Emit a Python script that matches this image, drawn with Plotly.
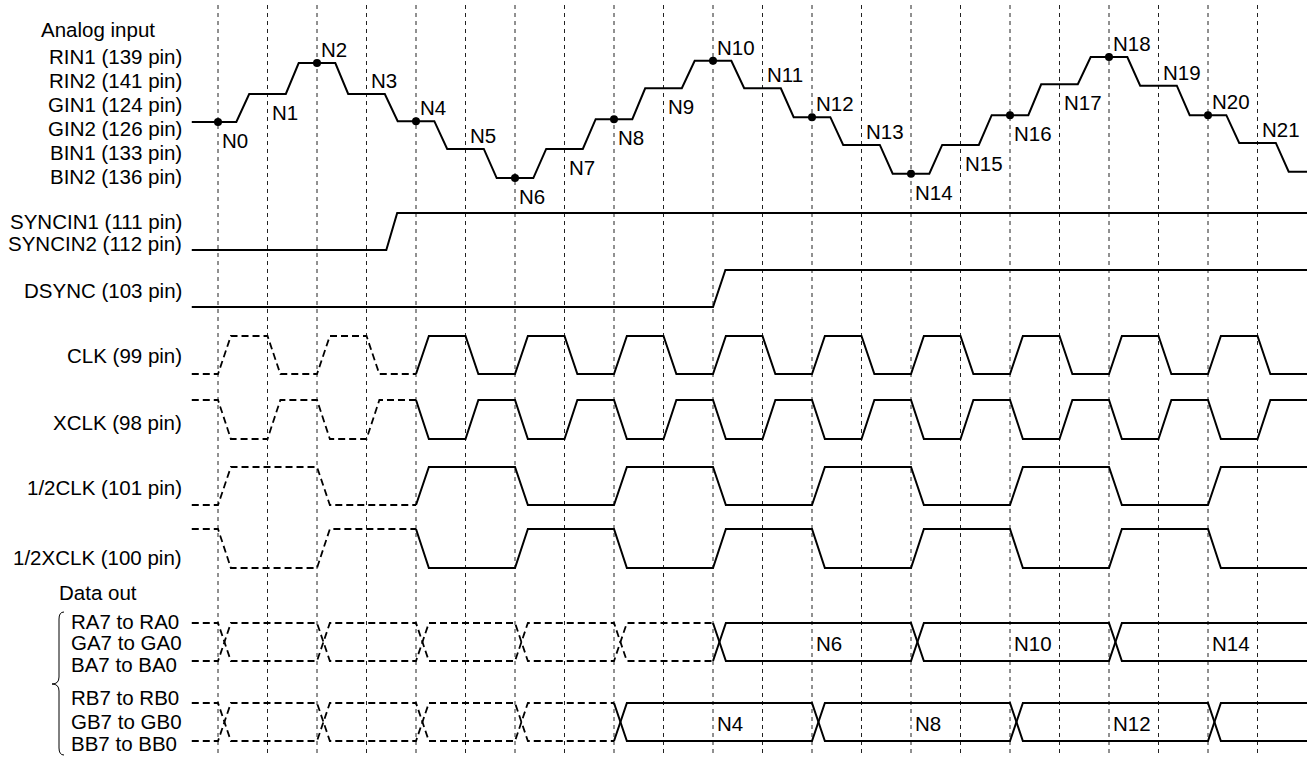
import plotly.graph_objects as go

# ---------------- data ----------------
node_labels = ["N0", "N1", "N2", "N3", "N4", "N5", "N6", "N7", "N8", "N9", "N10",
               "N11", "N12", "N13", "N14", "N15", "N16", "N17", "N18", "N19", "N20", "N21"]
# analog level held around each sample instant (last value = level after N21)
analog_levels = [0.00, 0.98, 2.06, 0.98, 0.03, -0.94, -1.96, -0.94, 0.10, 1.18, 2.14,
                 1.18, 0.17, -0.80, -1.81, -0.80, 0.24, 1.32, 2.27, 1.27, 0.24, -0.73, -1.74]
label_side = ["below", "below", "above", "above", "above", "above", "below", "below",
              "below", "below", "above", "above", "above", "above", "below", "below",
              "below", "below", "above", "above", "above", "above"]
sampled_nodes = [0, 2, 4, 6, 8, 10, 12, 14, 16, 18, 20]

# digital levels per clock interval: index 0 = before t0, index i = interval [i-1, i)
clk_bits = [0, 1, 0, 1, 0, 1, 0, 1, 0, 1, 0, 1, 0, 1, 0, 1, 0, 1, 0, 1, 0, 1, 0]
xclk_bits = [1, 0, 1, 0, 1, 0, 1, 0, 1, 0, 1, 0, 1, 0, 1, 0, 1, 0, 1, 0, 1, 0, 1]
half_clk_bits = [0, 1, 1, 0, 0, 1, 1, 0, 0, 1, 1, 0, 0, 1, 1, 0, 0, 1, 1, 0, 0, 1, 1]
half_xclk_bits = [1, 0, 0, 1, 1, 0, 0, 1, 1, 0, 0, 1, 1, 0, 0, 1, 1, 0, 0, 1, 1, 0, 0]
clock_valid_from = 4

syncin_edge = 3.4
dsync_edge = 10.0

bus_a_invalid_edges = [0, 2, 4, 6, 8]
bus_a_edges = [10, 14, 18]
bus_a_labels = ["N6", "N10", "N14"]
bus_b_invalid_edges = [0, 2, 4, 6]
bus_b_edges = [8, 12, 16, 20]
bus_b_labels = ["N4", "N8", "N12"]

left_labels = [
    ("RIN1 (139 pin)", 56), ("RIN2 (141 pin)", 80), ("GIN1 (124 pin)", 104),
    ("GIN2 (126 pin)", 128), ("BIN1 (133 pin)", 152), ("BIN2 (136 pin)", 176),
    ("SYNCIN1 (111 pin)", 221), ("SYNCIN2 (112 pin)", 243), ("DSYNC (103 pin)", 290),
    ("CLK (99 pin)", 355), ("XCLK (98 pin)", 422), ("1/2CLK (101 pin)", 487),
    ("1/2XCLK (100 pin)", 557),
]
bus_names = [("RA7 to RA0", 621), ("GA7 to GA0", 642), ("BA7 to BA0", 664),
             ("RB7 to RB0", 697), ("GB7 to GB0", 721), ("BB7 to BB0", 743)]

# ---------------- layout constants ----------------
W, H = 1314, 758
T0_PX, UNIT = 218.0, 49.5
T_START, T_END = -0.53, 22.0
FONT = "Liberation Sans, Arial, sans-serif"
FS = 20.5


def px2t(px):
    return (px - T0_PX) / UNIT


ANALOG_BASE, ANALOG_STEP = 122.0, 28.6
ROW = {
    "SYNCIN": (250, 213), "DSYNC": (307, 270), "CLK": (374, 336), "XCLK": (439, 400),
    "HCLK": (505, 467), "HXCLK": (568, 529), "BUSA": (661, 623), "BUSB": (741, 703),
}
EDGE = 0.26


def lvl(v):
    return ANALOG_BASE - v * ANALOG_STEP


# ---------------- geometry builders ----------------
def analog_points():
    xs, ys = [T_START], [lvl(analog_levels[0])]
    for k in range(len(analog_levels) - 1):
        xs += [k + 0.37, k + 0.63]
        ys += [lvl(analog_levels[k]), lvl(analog_levels[k + 1])]
    xs.append(T_END)
    ys.append(lvl(analog_levels[-1]))
    return xs, ys


def digital_from_bits(bits, row):
    lo, hi = ROW[row]
    yv = lambda b: hi if b else lo
    pts = [(T_START, yv(bits[0]))]
    for i in range(1, len(bits)):
        if bits[i] != bits[i - 1]:
            t = i - 1
            pts += [(t, yv(bits[i - 1])), (t + EDGE, yv(bits[i]))]
    pts.append((T_END, yv(bits[-1])))
    return pts


def step_edge(edge, row, w):
    lo, hi = ROW[row]
    return [(T_START, lo), (edge, lo), (edge + w, hi), (T_END, hi)]


def split(pts, at):
    a = [p for p in pts if p[0] <= at]
    b = [p for p in pts if p[0] >= at]
    return a, b


def bus_lines(edges, row):
    bot, top = ROW[row]
    p1, p2 = [(T_START, top)], [(T_START, bot)]
    cur1, cur2 = top, bot
    for e in edges:
        p1 += [(e, cur1), (e + EDGE, cur2)]
        p2 += [(e, cur2), (e + EDGE, cur1)]
        cur1, cur2 = cur2, cur1
    p1.append((T_END, cur1))
    p2.append((T_END, cur2))
    return p1, p2


solid_x, solid_y, dash_x, dash_y = [], [], [], []


def add(pts, dashed=False):
    if not pts:
        return
    xs = dash_x if dashed else solid_x
    ys = dash_y if dashed else solid_y
    xs += [p[0] for p in pts] + [None]
    ys += [p[1] for p in pts] + [None]


ax, ay = analog_points()
add(list(zip(ax, ay)))
add(step_edge(syncin_edge, "SYNCIN", 0.22))
add(step_edge(dsync_edge, "DSYNC", 0.25))
for bits, row in [(clk_bits, "CLK"), (xclk_bits, "XCLK"),
                  (half_clk_bits, "HCLK"), (half_xclk_bits, "HXCLK")]:
    d, s = split(digital_from_bits(bits, row), clock_valid_from)
    add(d, True)
    add(s)
for inv, val, row in [(bus_a_invalid_edges, bus_a_edges, "BUSA"),
                      (bus_b_invalid_edges, bus_b_edges, "BUSB")]:
    for line in bus_lines(inv + val, row):
        d, s = split(line, val[0])
        add(d, True)
        add(s)

fig = go.Figure()
fig.add_trace(go.Scatter(x=dash_x, y=dash_y, mode="lines",
                         line=dict(color="black", width=1.8, dash="7px,4px"),
                         hoverinfo="skip"))
fig.add_trace(go.Scatter(x=solid_x, y=solid_y, mode="lines",
                         line=dict(color="black", width=2), hoverinfo="skip"))
fig.add_trace(go.Scatter(x=sampled_nodes, y=[lvl(analog_levels[k]) for k in sampled_nodes],
                         mode="markers", marker=dict(color="black", size=8),
                         hoverinfo="skip"))

# vertical sample grid
for k in range(len(node_labels)):
    fig.add_shape(type="line", x0=k, x1=k, y0=5, y1=756, xref="x", yref="y",
                  line=dict(color="#222", width=1, dash="4px,4px"), layer="below")

# node labels
for k, name in enumerate(node_labels):
    off = -13.5 if label_side[k] == "above" else 18.5
    fig.add_annotation(x=k, y=lvl(analog_levels[k]) + off, text=name, showarrow=False,
                       xanchor="left", yanchor="middle", xshift=2,
                       font=dict(family=FONT, size=FS, color="black"))

# bus labels (centred in each valid data window)
for edges, labels, row in [(bus_a_edges, bus_a_labels, "BUSA"), (bus_b_edges, bus_b_labels, "BUSB")]:
    mid_y = sum(ROW[row]) / 2 + 1
    for i, name in enumerate(labels):
        fig.add_annotation(x=edges[i] + 2, y=mid_y, text=name, showarrow=False,
                           xanchor="left", yanchor="middle", xshift=2,
                           font=dict(family=FONT, size=FS, color="black"))

# left labels
fig.add_annotation(x=px2t(39), y=29, text="Analog input", showarrow=False, xanchor="left",
                   yanchor="middle", font=dict(family=FONT, size=FS, color="black"))
for text, y in left_labels:
    fig.add_annotation(x=px2t(184), y=y, text=text, showarrow=False, xanchor="right",
                       yanchor="middle", font=dict(family=FONT, size=FS, color="black"))
fig.add_annotation(x=px2t(57), y=592, text="Data out", showarrow=False, xanchor="left",
                   yanchor="middle", font=dict(family=FONT, size=FS, color="black"))
for text, y in bus_names:
    fig.add_annotation(x=px2t(69), y=y, text=text, showarrow=False, xanchor="left",
                       yanchor="middle", font=dict(family=FONT, size=FS, color="black"))

# brace
bx, bt, bm, bb, tip = px2t(59), 612, 684, 755, px2t(52)
ex = px2t(64)
path = (f"M {ex},{bt} Q {bx},{bt} {bx},{bt+7} L {bx},{bm-7} Q {bx},{bm} {tip},{bm} "
        f"Q {bx},{bm} {bx},{bm+7} L {bx},{bb-7} Q {bx},{bb} {ex},{bb}")
fig.add_shape(type="path", path=path, xref="x", yref="y", line=dict(color="black", width=1))

fig.update_layout(
    width=W, height=H, margin=dict(l=0, r=0, t=0, b=0, pad=0),
    paper_bgcolor="white", plot_bgcolor="white", showlegend=False,
    xaxis=dict(range=[px2t(0), px2t(W)], visible=False, fixedrange=True),
    yaxis=dict(range=[H, 0], visible=False, fixedrange=True),
)

fig.write_html("out.html", config={"displayModeBar": False},
               post_script="document.body.style.margin='0';")
